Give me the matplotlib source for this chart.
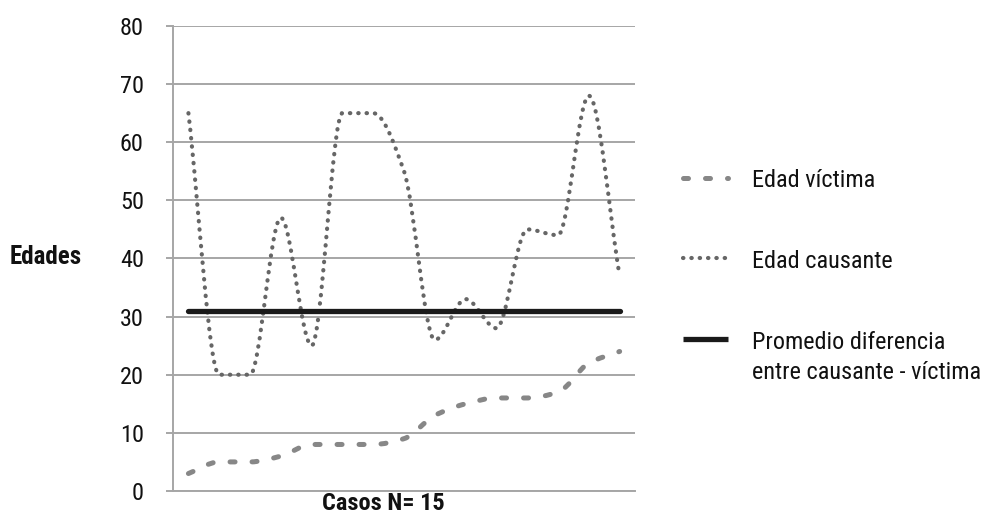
import numpy as np
import matplotlib
matplotlib.use('Agg')
import matplotlib.pyplot as plt
from matplotlib.path import Path
from matplotlib.patches import PathPatch
from matplotlib.lines import Line2D

plt.rcParams['font.family'] = ['Roboto Condensed', 'Liberation Sans', 'DejaVu Sans']

# datos
casos = np.arange(15)
edad_victima = [3, 5, 5, 6, 8, 8, 8, 9, 13, 15, 16, 16, 17, 22, 24]
edad_causante = [65, 20, 20, 47, 25, 65, 65, 55, 26, 33, 28, 45, 44, 68, 37]
promedio_diferencia = [31] * 15

etiquetas = ['Edad víctima', 'Edad causante',
             'Promedio diferencia\nentre causante - víctima']


def curva_suave(x, y):
    # línea suavizada tipo Excel: bezier cúbico con tangentes monótonas
    x = np.asarray(x, float)
    y = np.asarray(y, float)
    h = np.diff(x)
    d = np.diff(y) / h
    m = np.zeros_like(y)
    m[0], m[-1] = d[0], d[-1]
    for k in range(1, len(y) - 1):
        if d[k - 1] * d[k] > 0:
            m[k] = 2 / (1 / d[k - 1] + 1 / d[k])
    verts = [(x[0], y[0])]
    codes = [Path.MOVETO]
    for k in range(len(x) - 1):
        verts += [(x[k] + h[k] / 3, y[k] + m[k] * h[k] / 3),
                  (x[k + 1] - h[k] / 3, y[k + 1] - m[k + 1] * h[k] / 3),
                  (x[k + 1], y[k + 1])]
        codes += [Path.CURVE4] * 3
    return Path(verts, codes)


fig = plt.figure(figsize=(9.87, 5.19), dpi=100)
ax = fig.add_axes([0.1753, 0.054, 0.4681, 0.896])

gris_rejilla = '#a6a6a6'
estilo_victima = dict(color='#878787', linewidth=3.6, linestyle=(0, (1, 3.4)))
estilo_causante = dict(color='#666666', linewidth=3.0, linestyle=(0, (0.1, 1.9)))
estilo_promedio = dict(color='#1a1a1a', linewidth=3.8, linestyle='-')

for serie, estilo in [(edad_victima, estilo_victima), (edad_causante, estilo_causante)]:
    patch = PathPatch(curva_suave(casos, serie), facecolor='none',
                      edgecolor=estilo['color'], linewidth=estilo['linewidth'],
                      linestyle=estilo['linestyle'], capstyle='round', zorder=3)
    ax.add_patch(patch)

ax.plot(casos, promedio_diferencia, solid_capstyle='round', zorder=4, **estilo_promedio)

ax.set_xlim(-0.5, 14.5)
ax.set_ylim(0, 80)
ax.set_yticks(np.arange(0, 81, 10))
ax.set_xticks([])
ax.yaxis.grid(True, color=gris_rejilla, linewidth=1.4)
ax.set_axisbelow(True)
for lado in ['top', 'right']:
    ax.spines[lado].set_visible(False)
ax.spines['left'].set_color(gris_rejilla)
ax.spines['left'].set_linewidth(1.4)
ax.spines['bottom'].set_color(gris_rejilla)
ax.spines['bottom'].set_linewidth(1.4)
ax.tick_params(axis='y', length=5, width=1.4, color=gris_rejilla, pad=16,
               labelsize=17.5, labelcolor='#111111')

fig.text(10 / 987, 1 - 257 / 519, 'Edades', fontsize=18, fontweight='bold',
         ha='left', va='center', color='#111111')
fig.text(383 / 987, 1 - 503 / 519, 'Casos N= 15', fontsize=17.5, fontweight='bold',
         ha='center', va='center', color='#111111')

handles = [Line2D([], [], dash_capstyle='round', solid_capstyle='round', **estilo_victima),
           Line2D([], [], dash_capstyle='round', **estilo_causante),
           Line2D([], [], solid_capstyle='butt', **estilo_promedio)]
leg = fig.legend(handles, etiquetas, loc='upper left', bbox_to_anchor=(683 / 987, 1 - 169 / 519),
                 frameon=False, fontsize=17.5, handlelength=1.85, handletextpad=1.0,
                 labelspacing=2.38, borderpad=0, borderaxespad=0, labelcolor='#111111')
leg.get_texts()[2].set_linespacing(1.4)
# alinear el símbolo con la primera línea del texto
for columna in leg._legend_handle_box.get_children():
    for fila in columna.get_children():
        fila.align = 'top'

fig.savefig('out.png', dpi=100)
